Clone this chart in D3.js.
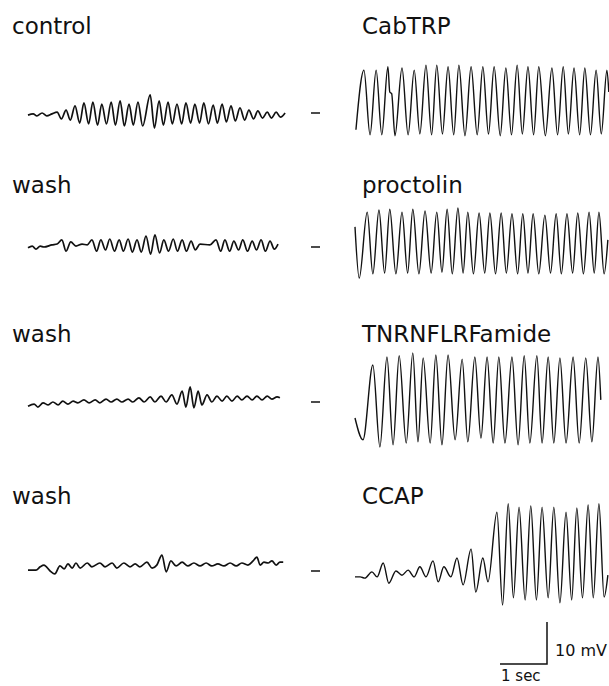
<!DOCTYPE html>
<html>
<head>
<meta charset="utf-8">
<script src="https://cdn.jsdelivr.net/npm/d3@7"></script>
<style>
  body { margin: 0; background: #fff; }
  text { font-family: "DejaVu Sans", sans-serif; fill: #111; }
</style>
</head>
<body>
<svg id="figure"></svg>
<script>
// row labels
const leftLabels = ["control", "wash", "wash", "wash"];
const rightLabels = ["CabTRP", "proctolin", "TNRNFLRFamide", "CCAP"];

// traces: [time (s), potential (mV) relative to the dash level]
const controlTrace = [
  [0, -0.5], [0.11, -0.2], [0.19, -0.7], [0.3, 0], [0.4, -0.7], [0.51, -0.2],
  [0.62, 0.2], [0.71, -1.4], [0.81, 0.7], [0.9, -1.7], [1.0, 1.7], [1.1, -2.4],
  [1.19, 2.4], [1.29, -2.6], [1.38, 2.6], [1.48, -2.9], [1.57, 2.1], [1.67, -2.6],
  [1.77, 2.6], [1.86, -2.9], [1.96, 2.9], [2.05, -3.1], [2.15, 2.1], [2.24, -2.9],
  [2.34, 2.6], [2.44, -3.1], [2.6, 4.3], [2.69, -3.6], [2.79, 2.9], [2.88, -2.9],
  [2.98, 2.6], [3.07, -2.6], [3.17, 2.1], [3.27, -2.6], [3.36, 2.4], [3.46, -2.4],
  [3.55, 2.1], [3.65, -2.4], [3.74, 2.4], [3.84, -2.6], [3.94, 1.9], [4.03, -2.4],
  [4.13, 2.1], [4.22, -2.1], [4.32, 1.7], [4.41, -1.9], [4.51, 1.2], [4.61, -1.7],
  [4.7, 0.7], [4.8, -1.4], [4.89, 0.5], [4.99, -1.2], [5.09, 0.2], [5.18, -1.2],
  [5.28, 0.2], [5.37, -1.0], [5.47, 0]
];
const cabtrpTrace = [
  [0.02, -4.0], [0.19, 10.2], [0.32, -5.2], [0.45, 10.2], [0.57, -5.2], [0.7, 11.0],
  [0.74, 5.0], [0.78, 4.6], [0.85, -5.4], [1.0, 10.7], [1.13, -5.2], [1.26, 10.2],
  [1.38, -5.0], [1.51, 11.4], [1.63, -5.2], [1.74, 11.4], [1.86, -5.0], [1.98, 11.0],
  [2.1, -5.2], [2.21, 11.4], [2.34, -5.4], [2.47, 11.0], [2.6, -5.2], [2.72, 11.0],
  [2.84, -5.0], [2.96, 11.0], [3.09, -5.4], [3.21, 10.7], [3.33, -5.2], [3.45, 11.4],
  [3.56, -5.0], [3.68, 11.0], [3.8, -5.2], [3.91, 11.0], [4.05, -5.4], [4.19, 10.7],
  [4.31, -5.2], [4.43, 11.0], [4.54, -5.0], [4.66, 10.7], [4.78, -5.2], [4.89, 10.7],
  [5.01, -5.2], [5.13, 10.2], [5.24, -5.0], [5.36, 10.2], [5.4, 5.0]
];
const wash1Trace = [
  [0, -0.2], [0.09, 0.2], [0.17, -0.5], [0.26, 0.2], [0.34, 0], [0.51, 0.5],
  [0.62, 0.7], [0.72, 1.7], [0.81, -1.0], [0.91, 1.2], [1.02, 0.2], [1.15, 0.7],
  [1.26, 0.5], [1.36, 1.7], [1.46, -1.0], [1.55, 1.7], [1.65, -0.7], [1.74, 1.9],
  [1.84, -1.0], [1.94, 1.7], [2.03, -1.0], [2.13, 1.9], [2.22, -1.2], [2.32, 1.7],
  [2.41, -1.2], [2.51, 2.6], [2.61, -1.7], [2.7, 2.9], [2.8, -1.4], [2.89, 1.7],
  [2.99, -1.0], [3.09, 1.9], [3.18, -1.0], [3.28, 1.7], [3.37, -1.0], [3.47, 1.4],
  [3.56, -0.7], [3.66, 0.7], [3.87, 0.5], [4.0, 1.7], [4.1, -1.0], [4.19, 1.7],
  [4.29, -1.0], [4.38, 1.4], [4.48, -0.7], [4.57, 1.7], [4.67, -1.0], [4.77, 1.4],
  [4.86, -0.7], [4.96, 1.7], [5.05, -1.0], [5.15, 1.4], [5.24, -0.5], [5.32, 0.7]
];
const proctolinTrace = [
  [0, 4.8], [0.09, -7.4], [0.26, 8.3], [0.38, -6.4], [0.51, 8.8], [0.63, -6.2],
  [0.74, 9.0], [0.87, -6.4], [1.0, 8.3], [1.12, -6.2], [1.23, 9.0], [1.36, -6.4],
  [1.49, 8.6], [1.62, -6.2], [1.74, 8.3], [1.85, -6.0], [1.96, 9.0], [2.07, -6.4],
  [2.19, 9.3], [2.3, -6.2], [2.4, 8.3], [2.52, -6.4], [2.64, 8.1], [2.76, -6.2],
  [2.87, 8.1], [2.99, -6.4], [3.11, 8.1], [3.22, -6.2], [3.34, 7.9], [3.46, -6.4],
  [3.57, 7.9], [3.68, -6.2], [3.79, 7.9], [3.91, -6.4], [4.04, 7.6], [4.16, -6.2],
  [4.28, 7.9], [4.39, -6.4], [4.51, 7.9], [4.63, -6.2], [4.74, 8.1], [4.86, -6.4],
  [4.98, 8.3], [5.09, -6.2], [5.19, 8.3], [5.3, -6.4], [5.38, 1.7]
];
const wash2Trace = [
  [0, -1.0], [0.13, -0.5], [0.21, -1.2], [0.32, -0.2], [0.43, -0.7], [0.53, 0],
  [0.64, -0.7], [0.74, 0.2], [0.85, -0.5], [0.96, 0.2], [1.06, -0.2], [1.19, 0.5],
  [1.3, -0.2], [1.43, 0.5], [1.53, -0.2], [1.66, 0.7], [1.77, 0], [1.89, 0.7],
  [2.0, 0], [2.13, 0.7], [2.23, 0], [2.36, 1.0], [2.47, 0], [2.6, 1.2],
  [2.7, 0], [2.83, 1.4], [2.94, 0], [3.06, 1.7], [3.17, -0.5], [3.28, 2.6],
  [3.36, -1.2], [3.45, 3.6], [3.53, -1.4], [3.62, 2.6], [3.7, -0.7], [3.81, 1.7],
  [3.91, 0], [4.02, 1.4], [4.13, 0.2], [4.23, 1.4], [4.34, 0.2], [4.45, 1.4],
  [4.55, 0.5], [4.66, 1.4], [4.77, 0.5], [4.87, 1.4], [4.98, 0.5], [5.09, 1.4],
  [5.19, 0.7], [5.3, 1.2], [5.36, 1.0]
];
const tnrnflrfamideTrace = [
  [0, -3.8], [0.17, -9.0], [0.38, 8.8], [0.53, -10.7], [0.68, 10.7], [0.81, -10.2],
  [0.94, 11.0], [1.09, -9.8], [1.23, 11.7], [1.34, -9.5], [1.45, 10.5], [1.6, -9.8],
  [1.72, 11.2], [1.85, -10.2], [1.98, 11.2], [2.13, -9.0], [2.28, 10.2], [2.4, -9.5],
  [2.55, 10.7], [2.68, -8.6], [2.81, 10.7], [2.94, -9.8], [3.06, 10.7], [3.19, -9.8],
  [3.34, 10.7], [3.47, -10.2], [3.6, 11.0], [3.72, -9.8], [3.87, 11.0], [3.98, -9.8],
  [4.11, 10.7], [4.23, -9.8], [4.36, 10.5], [4.49, -9.8], [4.64, 10.7], [4.77, -9.8],
  [4.91, 10.5], [5.04, -9.5], [5.17, 10.7], [5.23, 0.5]
];
const wash3Trace = [
  [0, 0.2], [0.17, 0.2], [0.26, 1.0], [0.34, 1.4], [0.47, 0], [0.57, -0.7],
  [0.68, 1.2], [0.77, 0.5], [0.85, 1.7], [0.94, 0.7], [1.02, 1.9], [1.11, 0.7],
  [1.26, 1.9], [1.36, 1.0], [1.53, 1.9], [1.64, 1.0], [1.79, 1.9], [1.89, 0.7],
  [2.04, 1.9], [2.17, 1.0], [2.28, 1.7], [2.38, 1.0], [2.53, 2.1], [2.64, 0.7],
  [2.74, 1.4], [2.85, 3.8], [2.94, -0.2], [3.04, 2.4], [3.15, 1.2], [3.28, 2.1],
  [3.4, 1.2], [3.53, 1.9], [3.66, 1.2], [3.79, 1.9], [3.91, 1.2], [4.04, 1.7],
  [4.17, 1.2], [4.3, 1.9], [4.43, 1.2], [4.55, 1.9], [4.68, 1.4], [4.79, 2.4],
  [4.87, 3.3], [4.94, 1.4], [5.02, 2.1], [5.11, 1.9], [5.19, 2.4], [5.28, 1.4],
  [5.36, 2.1], [5.43, 2.1]
];
const ccapTrace = [
  [0, -1.4], [0.11, -1.4], [0.21, -1.7], [0.36, -0.2], [0.47, -1.4], [0.6, 1.9],
  [0.72, -2.9], [0.87, 0], [1.0, -1.0], [1.13, 0.2], [1.26, -1.4], [1.38, 1.0],
  [1.51, -1.4], [1.66, 2.4], [1.77, -2.6], [1.89, 1.0], [2.04, -1.4], [2.17, 3.1],
  [2.3, -3.3], [2.47, 5.2], [2.57, -5.0], [2.72, 3.1], [2.83, -2.6], [3.02, 14.0],
  [3.14, -8.1], [3.26, 16.0], [3.37, -6.4], [3.49, 15.2], [3.62, -6.9], [3.74, 15.5],
  [3.86, -6.9], [3.98, 15.2], [4.11, -6.4], [4.23, 15.2], [4.36, -7.6], [4.49, 14.0],
  [4.61, -6.9], [4.72, 15.0], [4.84, -6.4], [4.96, 15.7], [5.07, -6.4], [5.19, 16.0],
  [5.3, -6.2], [5.38, -1.0]
];

const leftTraces = [controlTrace, wash1Trace, wash2Trace, wash3Trace];
const rightTraces = [cabtrpTrace, proctolinTrace, tnrnflrfamideTrace, ccapTrace];

// scale bar values
const barSeconds = 1;
const barMillivolts = 10;

const w = 609;
const h = 686;
const secPx = 47;   // 1 s
const mvPx = 4.2;   // 1 mV
const rowZero = [113, 247, 402, 571];
const labelBase = [34, 193, 342, 504];

const svg = d3.select("#figure").attr("width", w).attr("height", h);

const xLeft = d3.scaleLinear().domain([0, 1]).range([28, 28 + secPx]);
const xRight = d3.scaleLinear().domain([0, 1]).range([355, 355 + secPx]);
const yRow = (i) => d3.scaleLinear().domain([0, 1]).range([rowZero[i], rowZero[i] - mvPx]);

const drawTrace = (data, x, y, width) => {
  const line = d3
    .line()
    .x((d) => x(d[0]))
    .y((d) => y(d[1]))
    .curve(d3.curveMonotoneX);
  svg
    .append("path")
    .datum(data)
    .attr("d", line)
    .attr("fill", "none")
    .attr("stroke", "#111")
    .attr("stroke-width", width)
    .attr("stroke-linejoin", "round");
};

leftTraces.forEach((trace, i) => {
  const y = yRow(i);
  drawTrace(trace, xLeft, y, 1.7);
  drawTrace(rightTraces[i], xRight, y, 1.4);

  // reference level dash
  svg
    .append("line")
    .attr("x1", 311)
    .attr("x2", 320)
    .attr("y1", y(0))
    .attr("y2", y(0))
    .attr("stroke", "#111")
    .attr("stroke-width", 1.5);

  svg
    .append("text")
    .attr("x", 12)
    .attr("y", labelBase[i])
    .style("font-size", "23px")
    .text(leftLabels[i]);
  svg
    .append("text")
    .attr("x", 362)
    .attr("y", labelBase[i])
    .style("font-size", "23px")
    .text(rightLabels[i]);
});

// scale bar
const barX = 547;
const barY = 664;
const barW = xRight(barSeconds) - xRight(0);
const barH = yRow(0)(0) - yRow(0)(barMillivolts);
const bar = svg.append("g");
bar
  .append("path")
  .attr("d", `M${barX - barW},${barY}H${barX}V${barY - barH}`)
  .attr("fill", "none")
  .attr("stroke", "#111")
  .attr("stroke-width", 1.5);
bar
  .append("text")
  .attr("x", barX + 8)
  .attr("y", barY - 8)
  .style("font-size", "16px")
  .text(barMillivolts + " mV");
bar
  .append("text")
  .attr("x", barX - barW + 1)
  .attr("y", barY + 17)
  .style("font-size", "15px")
  .text(barSeconds + " sec");
</script>
</body>
</html>
